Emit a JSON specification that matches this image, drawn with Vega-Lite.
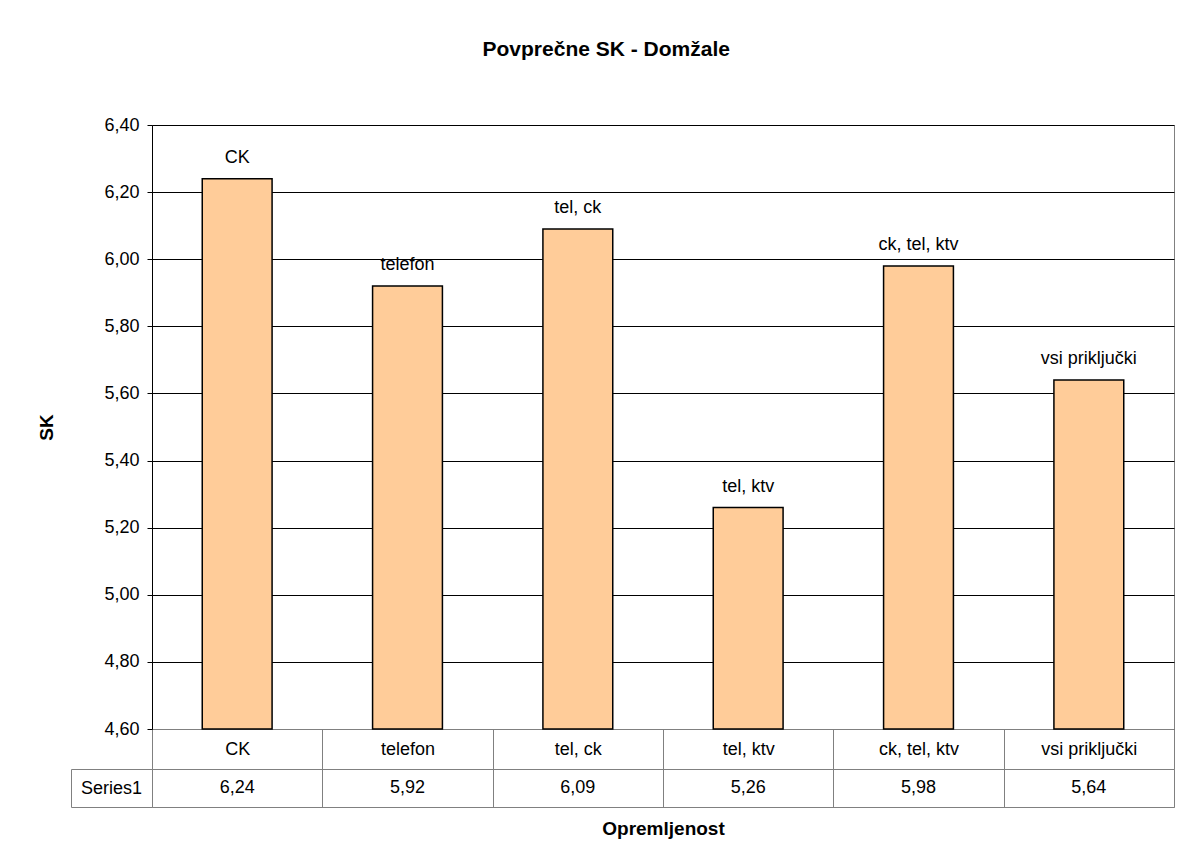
{
  "$schema": "https://vega.github.io/schema/vega-lite/v6.json",
  "padding": {"left": 37, "top": 38, "right": 7, "bottom": 10},
  "background": "white",
  "title": {"text": "Povprečne SK - Domžale", "fontSize": 21, "font": "Liberation Sans", "fontWeight": "bold", "anchor": "middle", "offset": 56, "color": "black"},
  "datasets": {
    "sk": [
      {"kategorija": "CK", "sk": 6.24, "serija": "Series1"},
      {"kategorija": "telefon", "sk": 5.92, "serija": "Series1"},
      {"kategorija": "tel, ck", "sk": 6.09, "serija": "Series1"},
      {"kategorija": "tel, ktv", "sk": 5.26, "serija": "Series1"},
      {"kategorija": "ck, tel, ktv", "sk": 5.98, "serija": "Series1"},
      {"kategorija": "vsi priključki", "sk": 5.64, "serija": "Series1"}
    ]
  },
  "spacing": 40,
  "bounds": "flush",
  "vconcat": [
    {
      "width": 1022,
      "height": 604,
      "data": {"name": "sk"},
      "encoding": {
        "x": {
          "field": "kategorija", "type": "nominal", "sort": null,
          "scale": {"type": "band", "paddingInner": 0, "paddingOuter": 0},
          "axis": {"title": null, "labelAngle": 0, "domainColor": "#808080", "tickColor": "#808080", "tickSize": 40, "tickBand": "extent", "labelPadding": -20, "labelBaseline": "middle", "grid": false}
        }
      },
      "layer": [
        {
          "mark": {"type": "bar", "width": {"band": 0.41}, "fill": "#FFCC99", "stroke": "black", "strokeWidth": 1.5},
          "encoding": {
            "y": {
              "field": "sk", "type": "quantitative",
              "scale": {"domain": [4.6, 6.4], "nice": false, "zero": false},
              "axis": {"title": "SK", "values": [4.6, 4.8, 5.0, 5.2, 5.4, 5.6, 5.8, 6.0, 6.2, 6.4], "format": ".2f", "grid": true, "gridColor": "black", "domainColor": "black", "tickColor": "black", "tickSize": 5, "labelPadding": 8, "titlePadding": 47}
            },
            "y2": {"datum": 4.6}
          }
        },
        {
          "mark": {"type": "text", "dy": -16, "baseline": "alphabetic", "fontSize": 18, "font": "Liberation Sans", "color": "black"},
          "encoding": {
            "y": {"field": "sk", "type": "quantitative"},
            "text": {"field": "kategorija"}
          }
        }
      ]
    },
    {
      "width": 1022,
      "height": 38,
      "data": {"name": "sk"},
      "mark": {"type": "text", "fontSize": 18, "font": "Liberation Sans", "color": "black"},
      "encoding": {
        "x": {
          "field": "kategorija", "type": "nominal", "sort": null,
          "scale": {"type": "band", "paddingInner": 0, "paddingOuter": 0},
          "axis": {"labels": false, "ticks": false, "domain": false, "grid": true, "tickBand": "extent", "gridColor": "#808080", "title": "Opremljenost", "titlePadding": 12}
        },
        "y": {
          "field": "serija", "type": "nominal",
          "scale": {"type": "band", "paddingInner": 0, "paddingOuter": 0},
          "axis": {"title": null, "offset": 81, "domain": true, "domainColor": "#808080", "ticks": true, "tickBand": "extent", "tickSize": -81, "tickColor": "#808080", "labelAlign": "center", "labelPadding": 41, "labelBaseline": "middle"}
        },
        "text": {"field": "sk", "type": "quantitative", "format": ".2f"}
      }
    }
  ],
  "config": {
    "font": "Liberation Sans",
    "locale": {"number": {"decimal": ",", "thousands": ".", "grouping": [3], "currency": ["", " €"]}},
    "view": {"stroke": "#808080"},
    "axis": {"labelFont": "Liberation Sans", "labelFontSize": 18, "labelColor": "black", "titleFont": "Liberation Sans", "titleFontSize": 19, "titleFontWeight": "bold", "titleColor": "black"}
  }
}
